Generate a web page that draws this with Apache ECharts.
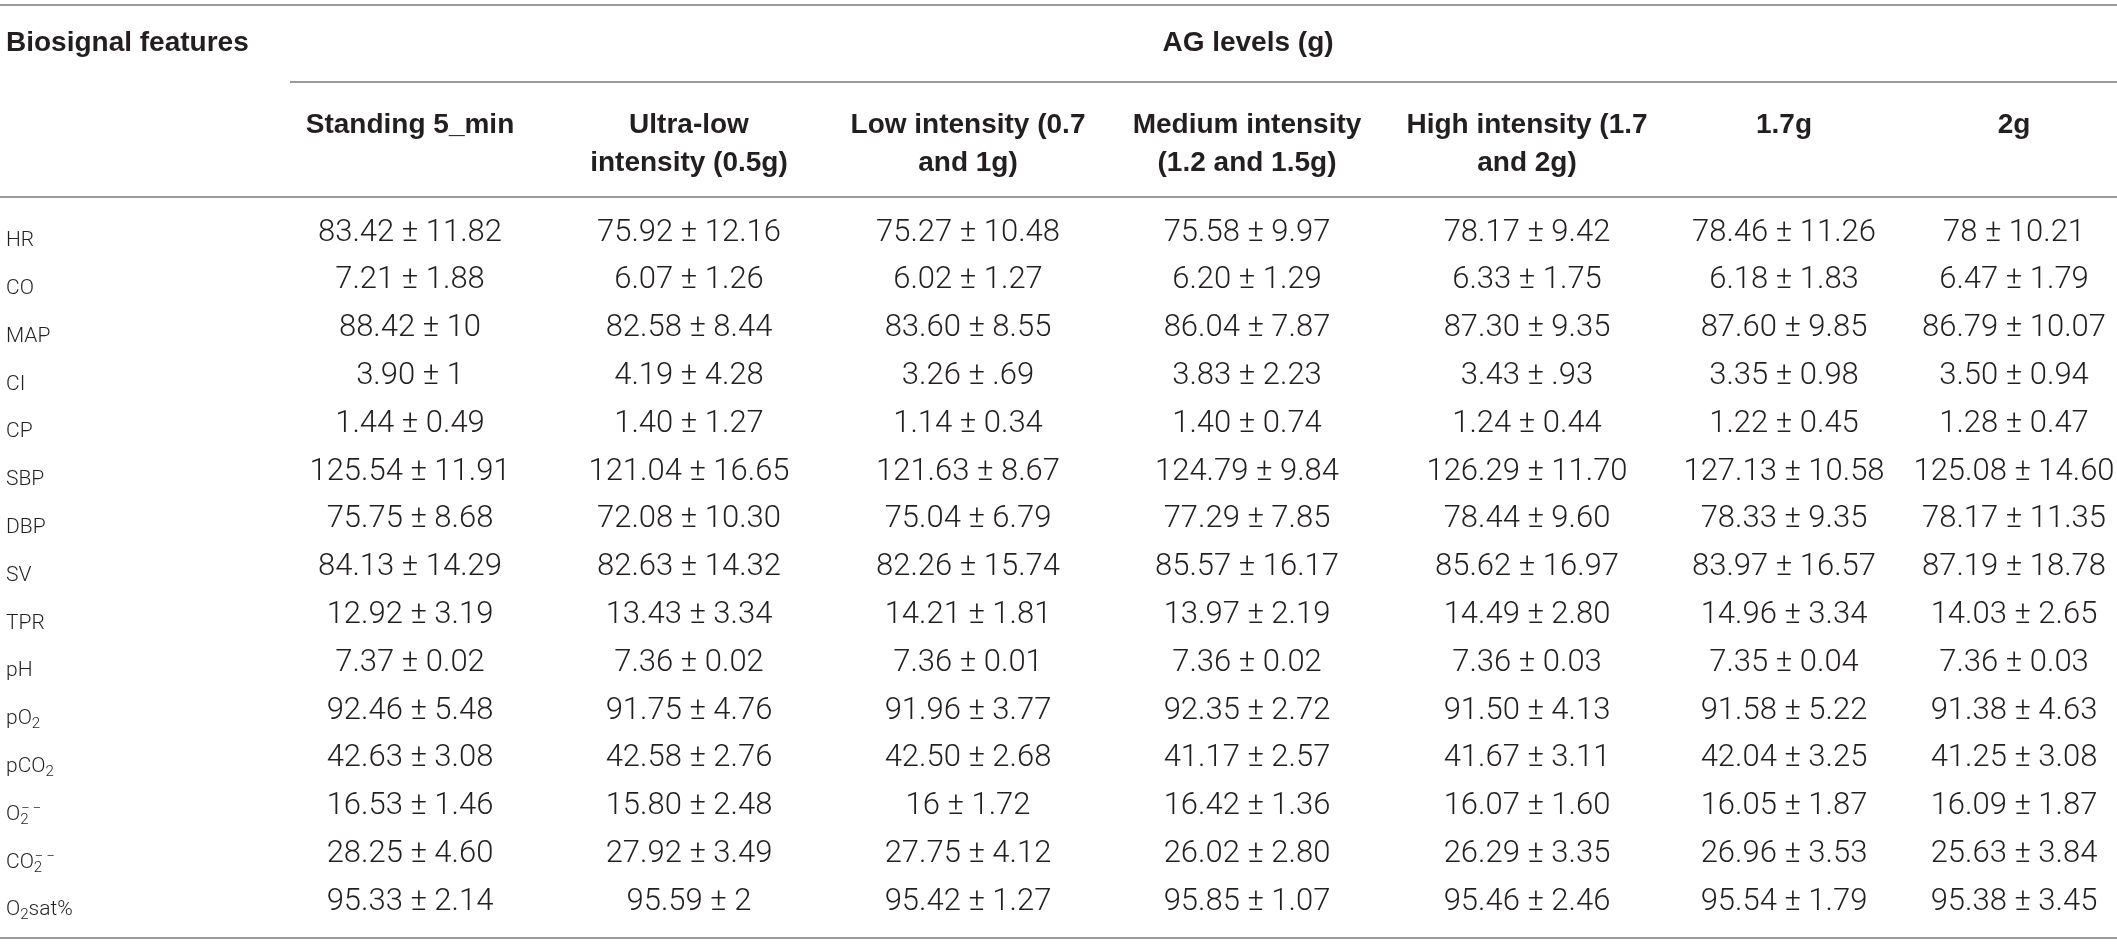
<!DOCTYPE html>
<html>
<head>
<meta charset="utf-8">
<script src="https://cdn.jsdelivr.net/npm/echarts@6/dist/echarts.min.js"></script>
<style>
html, body { margin: 0; padding: 0; background: #fff; }
#chart-table { width: 2117px; height: 944px; }
</style>
</head>
<body>
<div id="chart-table"></div>
<script>
var features = ['HR', 'CO', 'MAP', 'CI', 'CP', 'SBP', 'DBP', 'SV', 'TPR', 'pH', 'pO2', 'pCO2', 'O2−−', 'CO2−−', 'O2sat%'];
var groups = ['Standing 5_min', 'Ultra-low\nintensity (0.5g)', 'Low intensity (0.7\nand 1g)', 'Medium intensity\n(1.2 and 1.5g)', 'High intensity (1.7\nand 2g)', '1.7g', '2g'];

var standing5 = ['83.42 ± 11.82', '7.21 ± 1.88', '88.42 ± 10', '3.90 ± 1', '1.44 ± 0.49', '125.54 ± 11.91', '75.75 ± 8.68', '84.13 ± 14.29', '12.92 ± 3.19', '7.37 ± 0.02', '92.46 ± 5.48', '42.63 ± 3.08', '16.53 ± 1.46', '28.25 ± 4.60', '95.33 ± 2.14'];
var ultraLow = ['75.92 ± 12.16', '6.07 ± 1.26', '82.58 ± 8.44', '4.19 ± 4.28', '1.40 ± 1.27', '121.04 ± 16.65', '72.08 ± 10.30', '82.63 ± 14.32', '13.43 ± 3.34', '7.36 ± 0.02', '91.75 ± 4.76', '42.58 ± 2.76', '15.80 ± 2.48', '27.92 ± 3.49', '95.59 ± 2'];
var lowInt = ['75.27 ± 10.48', '6.02 ± 1.27', '83.60 ± 8.55', '3.26 ± .69', '1.14 ± 0.34', '121.63 ± 8.67', '75.04 ± 6.79', '82.26 ± 15.74', '14.21 ± 1.81', '7.36 ± 0.01', '91.96 ± 3.77', '42.50 ± 2.68', '16 ± 1.72', '27.75 ± 4.12', '95.42 ± 1.27'];
var mediumInt = ['75.58 ± 9.97', '6.20 ± 1.29', '86.04 ± 7.87', '3.83 ± 2.23', '1.40 ± 0.74', '124.79 ± 9.84', '77.29 ± 7.85', '85.57 ± 16.17', '13.97 ± 2.19', '7.36 ± 0.02', '92.35 ± 2.72', '41.17 ± 2.57', '16.42 ± 1.36', '26.02 ± 2.80', '95.85 ± 1.07'];
var highInt = ['78.17 ± 9.42', '6.33 ± 1.75', '87.30 ± 9.35', '3.43 ± .93', '1.24 ± 0.44', '126.29 ± 11.70', '78.44 ± 9.60', '85.62 ± 16.97', '14.49 ± 2.80', '7.36 ± 0.03', '91.50 ± 4.13', '41.67 ± 3.11', '16.07 ± 1.60', '26.29 ± 3.35', '95.46 ± 2.46'];
var g17 = ['78.46 ± 11.26', '6.18 ± 1.83', '87.60 ± 9.85', '3.35 ± 0.98', '1.22 ± 0.45', '127.13 ± 10.58', '78.33 ± 9.35', '83.97 ± 16.57', '14.96 ± 3.34', '7.35 ± 0.04', '91.58 ± 5.22', '42.04 ± 3.25', '16.05 ± 1.87', '26.96 ± 3.53', '95.54 ± 1.79'];
var g2 = ['78 ± 10.21', '6.47 ± 1.79', '86.79 ± 10.07', '3.50 ± 0.94', '1.28 ± 0.47', '125.08 ± 14.60', '78.17 ± 11.35', '87.19 ± 18.78', '14.03 ± 2.65', '7.36 ± 0.03', '91.38 ± 4.63', '41.25 ± 3.08', '16.09 ± 1.87', '25.63 ± 3.84', '95.38 ± 3.45'];

var columns = [standing5, ultraLow, lowInt, mediumInt, highInt, g17, g2];

// layout: column centres on the hidden x axis (0..2117)
var colX = [410, 689, 968, 1247, 1527, 1784, 2014];

var dom = document.getElementById('chart-table');
var myChart = echarts.init(dom, null, { renderer: 'canvas' });

var cells = [];
columns.forEach(function (col, c) {
  col.forEach(function (txt, r) {
    cells.push({ value: [colX[c], r], text: txt });
  });
});

// "pO2", "CO2−−", "O2sat%" -> rich text with sub/superscripts
function featureLabel(name) {
  var m = name.match(/^(.*O)2(−−)?(.*)$/);
  if (!m) return '{b|' + name + '}';
  var s = '{b|' + m[1] + '}';
  if (m[2]) s += '{subs|2}{sup|' + m[2].split('').join('\u2009') + '}';
  else s += '{sub|2}';
  if (m[3]) s += '{b|' + m[3] + '}';
  return s;
}

var ink = '#231f20';
var ruleStyle = { stroke: '#9a9a9a', lineWidth: 2 };
var headFont = 'bold 28px "Liberation Sans", Arial, sans-serif';

var graphics = [
  { type: 'line', shape: { x1: 0, y1: 5, x2: 2117, y2: 5 }, style: ruleStyle },
  { type: 'line', shape: { x1: 290, y1: 82, x2: 2117, y2: 82 }, style: ruleStyle },
  { type: 'line', shape: { x1: 0, y1: 197, x2: 2117, y2: 197 }, style: ruleStyle },
  { type: 'line', shape: { x1: 0, y1: 938, x2: 2117, y2: 938 }, style: ruleStyle },
  { type: 'text', x: 6, y: 43, style: { text: 'Biosignal features', font: headFont, fill: ink, align: 'left', verticalAlign: 'middle' } },
  { type: 'text', x: 1248, y: 43, style: { text: 'AG levels (g)', font: headFont, fill: ink, align: 'center', verticalAlign: 'middle' } }
];
groups.forEach(function (g, c) {
  graphics.push({
    type: 'text', x: colX[c], y: 106,
    style: { text: g, font: headFont, lineHeight: 38, fill: ink, align: 'center', verticalAlign: 'top' }
  });
});

var labelBase = { fontFamily: 'Roboto', fontWeight: 300, color: ink };

var option = {
  animation: false,
  backgroundColor: '#fff',
  grid: { left: 0, right: 0, top: 209, bottom: 18 },
  xAxis: { type: 'value', min: 0, max: 2117, show: false },
  yAxis: {
    type: 'category',
    inverse: true,
    data: features,
    axisLine: { show: false },
    axisTick: { show: false },
    splitLine: { show: false },
    axisLabel: {
      inside: true,
      margin: 6,
      padding: [16, 0, 0, 0],
      formatter: featureLabel,
      rich: {
        b: Object.assign({ fontSize: 21, lineHeight: 26, verticalAlign: 'middle' }, labelBase),
        sub: Object.assign({ fontSize: 15, lineHeight: 15, verticalAlign: 'bottom' }, labelBase),
        subs: Object.assign({ fontSize: 15, lineHeight: 13, verticalAlign: 'bottom', width: 1 }, labelBase),
        sup: Object.assign({ fontSize: 15, lineHeight: 12, verticalAlign: 'top' }, labelBase)
      }
    }
  },
  graphic: graphics,
  series: [
    {
      type: 'custom',
      data: cells,
      renderItem: function (params, api) {
        var p = api.coord([api.value(0), api.value(1)]);
        return {
          type: 'text',
          x: p[0],
          y: p[1],
          style: {
            text: cells[params.dataIndex].text,
            font: '300 31px Roboto, "Liberation Sans", sans-serif',
            fill: ink,
            align: 'center',
            verticalAlign: 'middle'
          }
        };
      }
    }
  ]
};

myChart.setOption(option);
window.addEventListener('resize', myChart.resize);
</script>
</body>
</html>
